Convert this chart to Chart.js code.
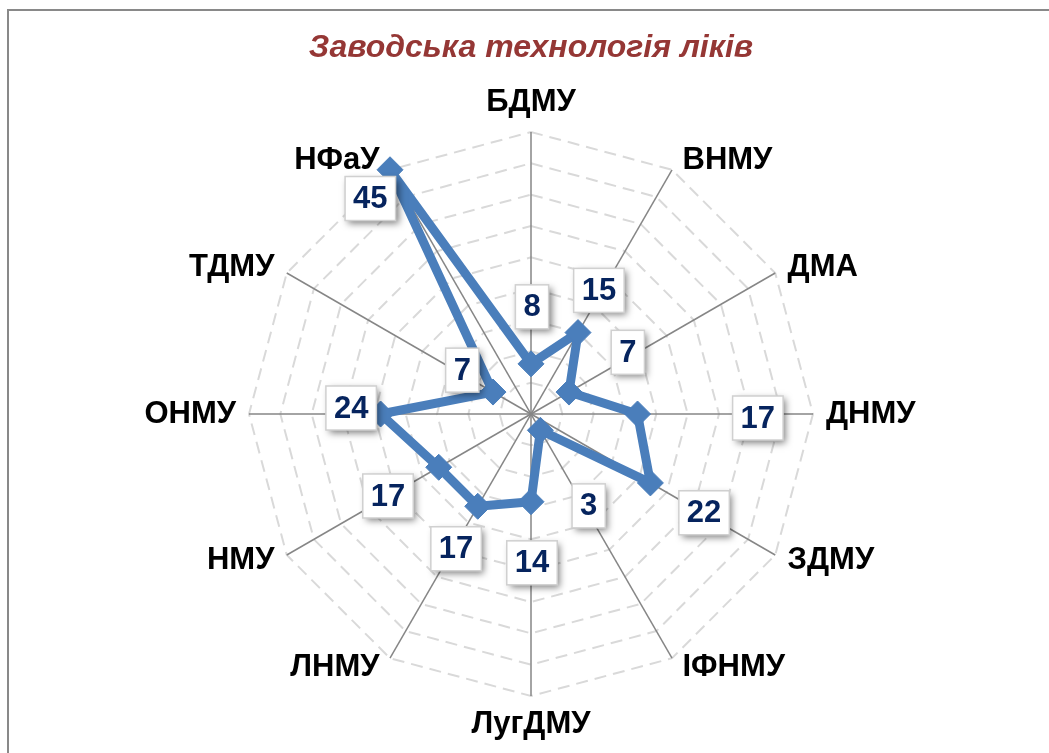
<!DOCTYPE html>
<html><head><meta charset="utf-8">
<script src="https://cdn.jsdelivr.net/npm/chart.js@4.4.0/dist/chart.umd.min.js"></script>
<style>
html,body{margin:0;padding:0;background:#fff;overflow:hidden;width:1049px;height:753px;}
#frame{position:absolute;left:7px;top:9px;width:1200px;height:900px;border-left:2px solid #898989;border-top:2px solid #898989;}
canvas{position:absolute;left:0;top:0;}
</style></head><body>
<div id="frame"></div>
<canvas id="c" width="1049" height="753"></canvas>
<script>
const chartTitle = 'Заводська технологія ліків';
const categories = ['БДМУ','ВНМУ','ДМА','ДНМУ','ЗДМУ','ІФНМУ','ЛугДМУ','ЛНМУ','НМУ','ОНМУ','ТДМУ','НФаУ'];
const values = [8, 15, 7, 17, 22, 3, 14, 17, 17, 24, 7, 45];
const axisMin = 0;
const axisMax = 45;
const axisStep = 5;

// data-label placement: distance along spoke (in axis units) and sideways shift (px)
const labelRadial = [17.1, 22.5, 18.3, 36.2, 31.8, 17.3, 23.75, 24.6, 26.3, 28.7, 13.0, 42.6];
const labelSideways = [1, -3, -5, 4, -1, -4, -1, -2.5, 0.5, 6, 3.6, -31.4];

const FONT = '"Liberation Sans", Arial, sans-serif';

const customLabels = {
  id: 'customLabels',
  beforeDatasetsDraw(chart) {
    const r = chart.scales.r, ctx = chart.ctx;
    ctx.save();
    ctx.font = 'bold 31px ' + FONT;
    ctx.fillStyle = '#000';
    ctx.textBaseline = 'middle';
    chart.data.labels.forEach((lab, i) => {
      const p = r.getPointPositionForValue(i, r.max);
      const th = p.angle + Math.PI / 2;
      const s = Math.sin(th), c = Math.cos(th);
      let x = p.x, y = p.y, align;
      if (Math.abs(s) < 0.01) { align = 'center'; y += c > 0 ? -30 : 28; }
      else { align = s > 0 ? 'left' : 'right'; x += (s > 0 ? 1 : -1) * (8 + 5 * Math.abs(s)); y += -c * 11; }
      ctx.textAlign = align;
      ctx.fillText(lab, x, y);
    });
    ctx.restore();
  },
  afterDatasetsDraw(chart) {
    const r = chart.scales.r, ctx = chart.ctx;
    const data = chart.data.datasets[0].data;
    ctx.save();
    ctx.font = 'bold 31px ' + FONT;
    data.forEach((v, i) => {
      const p = r.getPointPositionForValue(i, labelRadial[i]);
      const th = p.angle + Math.PI / 2;
      const x = p.x + labelSideways[i] * Math.cos(th);
      const y = p.y + labelSideways[i] * Math.sin(th);
      const txt = String(v);
      const w = ctx.measureText(txt).width + 16, h = 44;
      ctx.save();
      ctx.shadowColor = 'rgba(0,0,0,0.5)';
      ctx.shadowBlur = 7; ctx.shadowOffsetX = 3; ctx.shadowOffsetY = 3;
      ctx.fillStyle = '#fff';
      ctx.fillRect(x - w / 2, y - h / 2, w, h);
      ctx.restore();
      ctx.strokeStyle = '#d0d0d0'; ctx.lineWidth = 1.5;
      ctx.strokeRect(x - w / 2, y - h / 2, w, h);
      ctx.fillStyle = '#06245e';
      ctx.textAlign = 'center'; ctx.textBaseline = 'middle';
      ctx.fillText(txt, x, y + 1);
    });
    ctx.restore();
  }
};

new Chart(document.getElementById('c'), {
  type: 'radar',
  data: {
    labels: categories,
    datasets: [{
      data: values,
      borderColor: '#4A7EBB',
      backgroundColor: 'rgba(0,0,0,0)',
      fill: false,
      borderWidth: 9,
      borderJoinStyle: 'round',
      pointStyle: 'rectRot',
      pointRadius: 13,
      pointBackgroundColor: '#4A7EBB',
      pointBorderColor: '#4A7EBB',
      pointBorderWidth: 1
    }]
  },
  options: {
    responsive: false,
    animation: false,
    events: [],
    layout: { padding: { top: 10, left: 200, right: 187, bottom: 57 } },
    elements: { line: { tension: 0 } },
    plugins: {
      legend: { display: false },
      tooltip: { enabled: false },
      title: {
        display: true, text: chartTitle, color: '#953735',
        font: { family: FONT, size: 32, weight: 'bold', style: 'italic', lineHeight: 1.2 },
        padding: { top: 19, bottom: 64.6 }
      }
    },
    scales: {
      r: {
        min: axisMin, max: axisMax,
        ticks: { display: false, stepSize: axisStep },
        pointLabels: { display: false },
        angleLines: { display: true, color: '#868686', lineWidth: 1.5 },
        grid: { circular: false, color: '#d9d9d9', lineWidth: 2 },
        border: { dash: [12, 7] }
      }
    }
  },
  plugins: [customLabels]
});
</script>
</body></html>
